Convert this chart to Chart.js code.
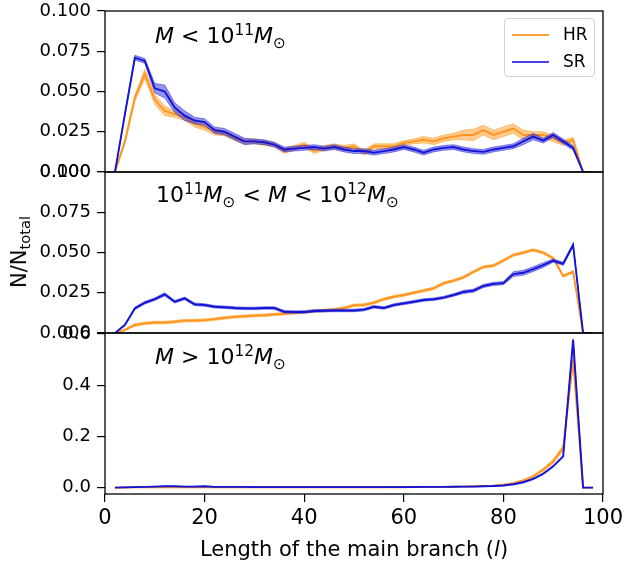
<!DOCTYPE html>
<html>
<head>
<meta charset="utf-8">
<script src="https://cdn.jsdelivr.net/npm/chart.js@4.4.1/dist/chart.umd.min.js"></script>
<style>
  body { margin: 0; background: #fff; font-family: "DejaVu Sans", sans-serif; color: #000; }
  #wrap { position: relative; width: 627px; height: 568px; overflow: hidden; }
  canvas { position: absolute; left: 0; }
  .ttl { position: absolute; font-size: 22px; line-height: 26px; white-space: nowrap; }
  .sup { font-size: 70%; position: relative; top: -0.55em; }
  .sub { font-size: 70%; position: relative; top: 0.3em; }
  #xlab { position: absolute; left: 354px; top: 537px; transform: translateX(-50%); font-size: 21px; white-space: nowrap; }
  #ylab { position: absolute; left: 19px; top: 252px; transform: translate(-50%, -50%) rotate(-90deg); font-size: 21px; white-space: nowrap; }
  #legend { position: absolute; left: 504px; top: 18px; width: 89px; height: 57px; border: 1px solid #d4d4d4; border-radius: 4px; background: rgba(255,255,255,0.8); }
  .item { position: absolute; left: 7px; height: 20px; font-size: 17px; line-height: 20px; }
  .item span { display: inline-block; width: 37px; height: 1.3px; vertical-align: middle; margin-right: 14px; }
</style>
</head>
<body>
<div id="wrap">
  <canvas id="c1" width="627" height="185" style="top:-1px"></canvas>
  <canvas id="c2" width="627" height="185" style="top:160px"></canvas>
  <canvas id="c3" width="627" height="247" style="top:321px"></canvas>

  <div class="ttl" style="left:155px; top:23px"><i>M</i> &lt; 10<span class="sup">11</span><i>M</i><span class="sub">⊙</span></div>
  <div class="ttl" style="left:156px; top:182px">10<span class="sup">11</span><i>M</i><span class="sub">⊙</span> &lt; <i>M</i> &lt; 10<span class="sup">12</span><i>M</i><span class="sub">⊙</span></div>
  <div class="ttl" style="left:155px; top:344px"><i>M</i> &gt; 10<span class="sup">12</span><i>M</i><span class="sub">⊙</span></div>

  <div id="legend">
    <div class="item" style="top:5px"><span style="background:#ffa040"></span>HR</div>
    <div class="item" style="top:32px"><span style="background:#4646e6"></span>SR</div>
  </div>

  <div id="ylab">N/N<span class="sub">total</span></div>
  <div id="xlab">Length of the main branch (<i>l</i>)</div>
</div>
<script>
// longueur de la branche principale
const lengths = [2,4,6,8,10,12,14,16,18,20,22,24,26,28,30,32,34,36,38,40,
  42,44,46,48,50,52,54,56,58,60,62,64,66,68,70,72,74,76,78,80,
  82,84,86,88,90,92,94,96,98];

// M < 1e11
const hrLow = [0,0.019,0.046,0.061,0.045,0.038,0.036,0.034,0.030,0.028,
  0.025,0.024,0.021,0.019,0.019,0.018,0.017,0.013,0.015,0.017,
  0.013,0.015,0.016,0.015,0.016,0.012,0.016,0.016,0.016,0.018,
  0.019,0.020,0.019,0.021,0.022,0.023,0.023,0.026,0.023,0.025,
  0.027,0.023,0.023,0.023,0.021,0.018,0.020,0,0];
const hrLowErr = [0,0.0015,0.002,0.003,0.003,0.003,0.002,0.002,0.002,0.002,
  0.002,0.0015,0.0015,0.0015,0.0015,0.0015,0.0015,0.0015,0.0015,0.0015,
  0.0015,0.0015,0.0015,0.0015,0.0015,0.0015,0.0015,0.0015,0.0015,0.0015,
  0.0015,0.002,0.002,0.002,0.002,0.003,0.0035,0.003,0.003,0.003,
  0.003,0.003,0.002,0.002,0.002,0.0015,0.0015,0,0];
const srLow = [0,0.036,0.071,0.069,0.052,0.050,0.040,0.035,0.032,0.031,
  0.026,0.025,0.022,0.019,0.019,0.0185,0.017,0.014,0.0145,0.015,
  0.0155,0.0145,0.0155,0.014,0.013,0.013,0.012,0.013,0.014,0.0155,
  0.014,0.012,0.014,0.015,0.0155,0.014,0.013,0.0125,0.014,0.015,
  0.016,0.019,0.022,0.0195,0.023,0.019,0.015,0,0];
const srLowErr = [0,0.001,0.0015,0.0015,0.003,0.004,0.003,0.003,0.002,0.002,
  0.002,0.002,0.002,0.002,0.0015,0.0015,0.0015,0.0015,0.0015,0.0015,
  0.0015,0.0015,0.0015,0.0015,0.0015,0.0015,0.0015,0.0015,0.0015,0.0015,
  0.0015,0.0015,0.0015,0.0015,0.0015,0.0015,0.0015,0.0015,0.0015,0.0015,
  0.0015,0.002,0.002,0.0015,0.0015,0.0015,0.0015,0,0];

// 1e11 < M < 1e12
const hrMid = [0,0.002,0.005,0.006,0.0065,0.0065,0.007,0.0077,0.0077,0.008,
  0.0086,0.0094,0.010,0.0104,0.0108,0.011,0.0115,0.012,0.0125,0.013,
  0.0137,0.014,0.0145,0.0155,0.0172,0.0174,0.0188,0.021,0.0225,0.0236,
  0.025,0.0263,0.0277,0.0309,0.0325,0.0346,0.038,0.041,0.0418,0.045,
  0.0484,0.0499,0.0516,0.0499,0.0464,0.0354,0.038,0,0];
const hrMidErr = [0,0.0005,0.0008,0.0008,0.0008,0.0008,0.0008,0.0008,0.0008,0.0008,
  0.0008,0.0008,0.0008,0.0008,0.0008,0.0008,0.0008,0.0008,0.0008,0.0008,
  0.0008,0.0008,0.0008,0.0008,0.0008,0.0008,0.0008,0.0008,0.0008,0.0008,
  0.0008,0.0008,0.0008,0.0008,0.0008,0.0008,0.0008,0.0008,0.0008,0.0008,
  0.0008,0.0008,0.0008,0.0008,0.0008,0.0008,0.0008,0,0];
const srMid = [0,0.005,0.0153,0.0188,0.021,0.024,0.0194,0.0215,0.0178,0.0174,
  0.0163,0.016,0.0155,0.0153,0.0153,0.0155,0.0155,0.0132,0.013,0.013,
  0.0137,0.0138,0.014,0.014,0.014,0.0145,0.0163,0.0155,0.0174,0.0184,
  0.0194,0.0205,0.021,0.022,0.0236,0.0255,0.0263,0.0292,0.0305,0.031,
  0.0366,0.0374,0.0397,0.0422,0.045,0.043,0.0547,0,0];
const srMidErr = [0,0.0006,0.0008,0.0008,0.0008,0.001,0.0008,0.0008,0.0008,0.0008,
  0.0008,0.0008,0.0008,0.0008,0.0008,0.0008,0.0008,0.0008,0.0008,0.0008,
  0.0008,0.0008,0.0008,0.0008,0.0008,0.0008,0.0008,0.0008,0.0008,0.0008,
  0.0008,0.0008,0.0008,0.0008,0.0008,0.001,0.001,0.001,0.001,0.001,
  0.0015,0.0015,0.0015,0.0015,0.001,0.001,0.001,0,0];

// M > 1e12
const hrHigh = [0,0.0005,0.001,0.001,0.001,0.001,0.001,0.001,0.001,0.001,
  0.001,0.001,0.001,0.001,0.001,0.001,0.001,0.001,0.001,0.001,
  0.001,0.001,0.001,0.001,0.001,0.001,0.001,0.001,0.0012,0.0015,
  0.0018,0.002,0.0025,0.003,0.0035,0.004,0.005,0.006,0.0075,0.011,
  0.017,0.028,0.044,0.07,0.102,0.155,0.50,0,0];
const hrHighErr = [0,0.001,0.001,0.001,0.001,0.001,0.001,0.001,0.001,0.001,
  0.001,0.001,0.001,0.001,0.001,0.001,0.001,0.001,0.001,0.001,
  0.001,0.001,0.001,0.001,0.001,0.001,0.001,0.001,0.001,0.001,
  0.001,0.001,0.001,0.001,0.001,0.001,0.001,0.001,0.0015,0.002,
  0.002,0.003,0.004,0.006,0.008,0.01,0.01,0,0];
const srHigh = [0,0.001,0.002,0.003,0.004,0.005,0.005,0.004,0.004,0.005,
  0.003,0.003,0.003,0.003,0.002,0.002,0.002,0.002,0.002,0.002,
  0.002,0.002,0.002,0.002,0.002,0.002,0.002,0.002,0.002,0.002,
  0.0025,0.003,0.003,0.003,0.0035,0.004,0.004,0.005,0.006,0.008,
  0.013,0.021,0.034,0.054,0.083,0.122,0.577,0,0];
const srHighErr = [0,0.001,0.001,0.001,0.001,0.001,0.001,0.001,0.001,0.001,
  0.001,0.001,0.001,0.001,0.001,0.001,0.001,0.001,0.001,0.001,
  0.001,0.001,0.001,0.001,0.001,0.001,0.001,0.001,0.001,0.001,
  0.001,0.001,0.001,0.001,0.001,0.001,0.001,0.001,0.001,0.0015,
  0.002,0.002,0.002,0.003,0.003,0.003,0.004,0,0];

// ticks
const xTicks = [0, 20, 40, 60, 80, 100];
const yTicksSmall = [0, 0.025, 0.05, 0.075, 0.1];
const yTicksBig = [0, 0.2, 0.4, 0.6];

// couleurs
const HR = { line: "#ff961e", edge: "rgba(255,140,0,0.55)", fill: "rgba(255,160,50,0.55)" };
const SR = { line: "#1414d8", edge: "rgba(20,20,200,0.55)", fill: "rgba(60,60,225,0.55)" };

// bordure noire autour de la zone du graphe
const frame = {
  id: "frame",
  afterDatasetsDraw(chart) {
    const a = chart.chartArea, ctx = chart.ctx;
    ctx.save();
    ctx.strokeStyle = "#000";
    ctx.lineWidth = 1.3;
    ctx.strokeRect(a.left, a.top, a.right - a.left, a.bottom - a.top);
    ctx.restore();
  }
};

function pts(vals, errs, sign) {
  return lengths.map((x, i) => ({ x, y: vals[i] + sign * errs[i] }));
}

function series(vals, errs, c, order) {
  return [
    { data: pts(vals, errs, -1), borderColor: c.edge, borderWidth: 0.8, pointRadius: 0, fill: false, order: order + 1 },
    { data: pts(vals, errs, 1), borderColor: c.edge, borderWidth: 0.8, pointRadius: 0, fill: "-1", backgroundColor: c.fill, order: order + 1 },
    { data: pts(vals, errs, 0), borderColor: c.line, borderWidth: 1.9, pointRadius: 0, fill: false, order: order }
  ];
}

// pas de marge auto pour les labels aux extrémités
function noPad(s) {
  s.paddingTop = 0; s.paddingBottom = 0; s.paddingLeft = 0; s.paddingRight = 0;
}

function makePanel(id, hr, hrErr, sr, srErr, yMin, yMax, yTicks, digits, showX) {
  return new Chart(document.getElementById(id), {
    type: "line",
    data: { datasets: [...series(hr, hrErr, HR, 2), ...series(sr, srErr, SR, 0)] },
    options: {
      responsive: false,
      animation: false,
      events: [],
      layout: { padding: { top: 12, right: 24, bottom: showX ? 34 : 12, left: 0 } },
      plugins: { legend: { display: false }, tooltip: { enabled: false } },
      scales: {
        x: {
          type: "linear", min: 0, max: 100, display: showX,
          afterBuildTicks: s => { s.ticks = xTicks.map(v => ({ value: v })); },
          afterFit: s => { noPad(s); if (showX) s.height = 40; },
          grid: { drawOnChartArea: false, color: "#000", lineWidth: 1.2, tickLength: 8 },
          border: { display: false },
          ticks: { color: "#000", font: { family: "DejaVu Sans", size: 21 }, padding: 4, maxRotation: 0 }
        },
        y: {
          min: yMin, max: yMax,
          afterBuildTicks: s => { s.ticks = yTicks.map(v => ({ value: v })); },
          afterFit: s => { noPad(s); s.width = 105; },
          grid: { drawOnChartArea: false, color: "#000", lineWidth: 1.2, tickLength: 8 },
          border: { display: false },
          ticks: { color: "#000", font: { family: "DejaVu Sans", size: 18 }, padding: 6, callback: v => v.toFixed(digits) }
        }
      }
    },
    plugins: [frame]
  });
}

makePanel("c1", hrLow, hrLowErr, srLow, srLowErr, 0, 0.1, yTicksSmall, 3, false);
makePanel("c2", hrMid, hrMidErr, srMid, srMidErr, 0, 0.1, yTicksSmall, 3, false);
makePanel("c3", hrHigh, hrHighErr, srHigh, srHighErr, -0.025, 0.604, yTicksBig, 1, true);
</script>
</body>
</html>
